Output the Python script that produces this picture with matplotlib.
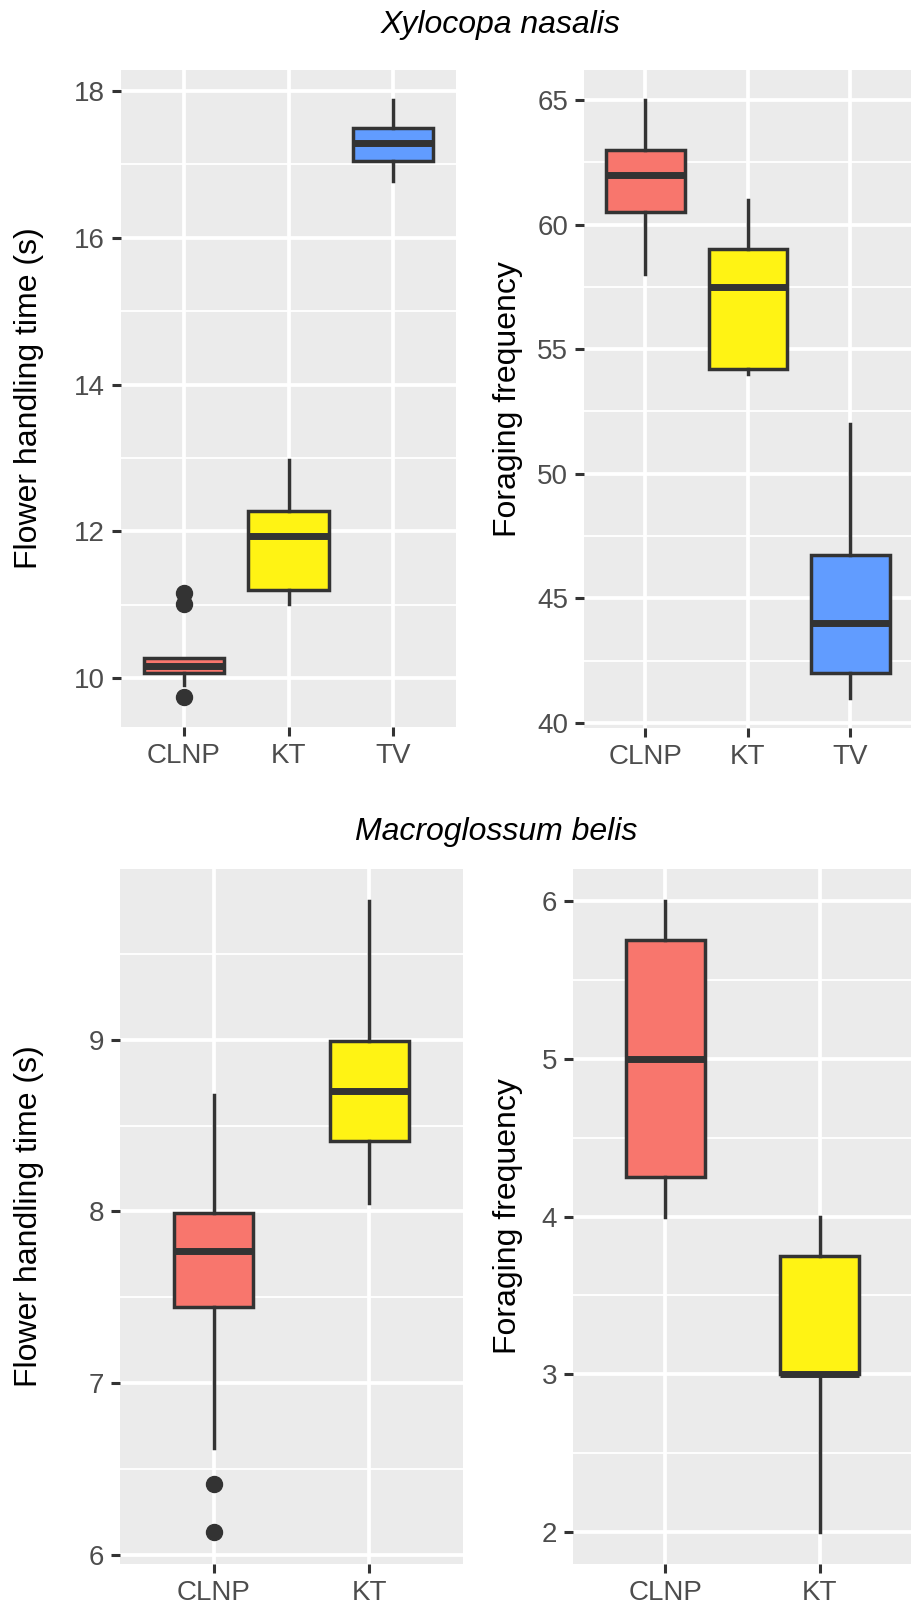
import matplotlib
matplotlib.use('Agg')
import matplotlib.pyplot as plt
from matplotlib.ticker import MultipleLocator

plt.rcParams['font.family'] = ['Liberation Sans', 'DejaVu Sans']

# Xylocopa nasalis
xn_sites = ['CLNP', 'KT', 'TV']
xn_colors = ['#F8766D', '#FFF314', '#619CFF']
xn_time_q1 = [10.07, 11.20, 17.04]
xn_time_med = [10.16, 11.93, 17.29]
xn_time_q3 = [10.28, 12.28, 17.49]
xn_time_lo = [9.90, 11.01, 16.77]
xn_time_hi = [10.28, 12.97, 17.88]
xn_time_out = [[11.01, 11.16, 9.74], [], []]

xn_freq_q1 = [60.5, 54.2, 42.0]
xn_freq_med = [62.0, 57.5, 44.0]
xn_freq_q3 = [63.0, 59.0, 46.75]
xn_freq_lo = [58.0, 54.0, 41.0]
xn_freq_hi = [65.0, 61.0, 52.0]
xn_freq_out = [[], [], []]

# Macroglossum belis
mb_sites = ['CLNP', 'KT']
mb_colors = ['#F8766D', '#FFF314']
mb_time_q1 = [7.44, 8.41]
mb_time_med = [7.77, 8.70]
mb_time_q3 = [7.99, 8.99]
mb_time_lo = [6.62, 8.05]
mb_time_hi = [8.68, 9.81]
mb_time_out = [[6.41, 6.13], []]

mb_freq_q1 = [4.25, 3.0]
mb_freq_med = [5.0, 3.0]
mb_freq_q3 = [5.75, 3.75]
mb_freq_lo = [4.0, 2.0]
mb_freq_hi = [6.0, 4.0]
mb_freq_out = [[], []]

W, H = 912, 1610
fig = plt.figure(figsize=(W / 100, H / 100), dpi=100)


def px_axes(x0, y0, x1, y1):
    return fig.add_axes([x0 / W, 1 - y1 / H, (x1 - x0) / W, (y1 - y0) / H])


def draw_panel(ax, sites, colors, q1, med, q3, lo, hi, out, width, step, ylabel, ylabel_x):
    stats = []
    for i in range(len(sites)):
        stats.append(dict(q1=q1[i], med=med[i], q3=q3[i], whislo=lo[i], whishi=hi[i],
                          fliers=out[i], label=sites[i]))
    pos = list(range(1, len(sites) + 1))
    bp = ax.bxp(stats, positions=pos, widths=width, patch_artist=True, showcaps=False,
                boxprops=dict(edgecolor='#333333', linewidth=2.5),
                medianprops=dict(color='#333333', linewidth=5, solid_capstyle='butt'),
                whiskerprops=dict(color='#333333', linewidth=2.5),
                flierprops=dict(marker='o', markerfacecolor='#333333',
                                markeredgecolor='#333333', markersize=11.5))
    for patch, c in zip(bp['boxes'], colors):
        patch.set_facecolor(c)
    # ggplot-like expansion of 5%
    vals = lo + hi + [v for o in out for v in o]
    vmin, vmax = min(vals), max(vals)
    pad = (vmax - vmin) * 0.05
    ax.set_ylim(vmin - pad, vmax + pad)
    ax.set_xlim(0.4, len(sites) + 0.6)
    ax.yaxis.set_major_locator(MultipleLocator(step))
    ax.yaxis.set_minor_locator(MultipleLocator(step / 2))
    ax.set_facecolor('#EBEBEB')
    ax.set_axisbelow(True)
    ax.grid(which='major', color='white', linewidth=2.7)
    ax.grid(which='minor', axis='y', color='white', linewidth=1.3)
    for s in ax.spines.values():
        s.set_visible(False)
    ax.tick_params(which='major', length=6.5, width=2.2, color='#333333',
                   labelcolor='#4D4D4D', labelsize=20, pad=5)
    ax.tick_params(which='minor', length=0)
    bb = ax.get_position()
    fig.text(ylabel_x / W, bb.y0 + bb.height / 2, ylabel, rotation=90, ha='center',
             va='center', fontsize=23, color='black')


ax1 = px_axes(121, 70, 456, 727)
draw_panel(ax1, xn_sites, xn_colors, xn_time_q1, xn_time_med, xn_time_q3, xn_time_lo,
           xn_time_hi, xn_time_out, 0.77, 2, 'Flower handling time (s)', 29)

ax2 = px_axes(584, 70, 912, 728)
draw_panel(ax2, xn_sites, xn_colors, xn_freq_q1, xn_freq_med, xn_freq_q3, xn_freq_lo,
           xn_freq_hi, xn_freq_out, 0.77, 5, 'Foraging frequency', 508)

ax3 = px_axes(120, 869, 463, 1564)
draw_panel(ax3, mb_sites, mb_colors, mb_time_q1, mb_time_med, mb_time_q3, mb_time_lo,
           mb_time_hi, mb_time_out, 0.51, 1, 'Flower handling time (s)', 29)

ax4 = px_axes(573, 869, 912, 1564)
draw_panel(ax4, mb_sites, mb_colors, mb_freq_q1, mb_freq_med, mb_freq_q3, mb_freq_lo,
           mb_freq_hi, mb_freq_out, 0.51, 1, 'Foraging frequency', 508)

fig.text(501 / W, 1 - 25 / H, 'Xylocopa nasalis', ha='center', va='center',
         fontsize=23, style='italic', color='black')
fig.text(496 / W, 1 - 832 / H, 'Macroglossum belis', ha='center', va='center',
         fontsize=23, style='italic', color='black')

fig.savefig('out.png', dpi=100)
